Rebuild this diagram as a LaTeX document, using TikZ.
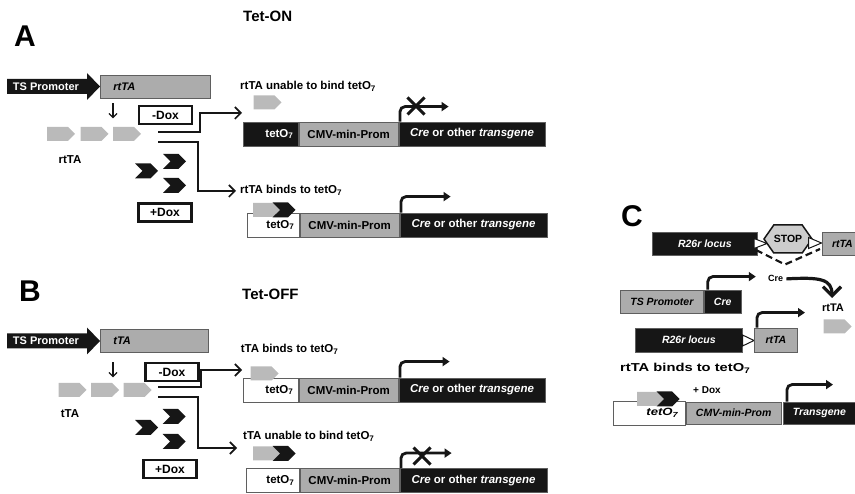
\documentclass[tikz,border=0pt]{standalone}
\usepackage{fontspec}
\usepackage{graphicx}
\setmainfont{Liberation Sans}
\usetikzlibrary{positioning,calc,arrows.meta,shapes.symbols,shapes.misc}

\definecolor{darkbar}{RGB}{22,22,22}
\definecolor{boxgray}{RGB}{172,172,172}
\definecolor{pentgray}{RGB}{186,186,186}
\definecolor{stopgray}{RGB}{205,205,205}
\definecolor{segline}{RGB}{95,95,95}

\tikzset{
  seg/.style={draw=segline, line width=0.8pt, minimum height=24pt, inner sep=0pt, anchor=west, font=\fontsize{11.5}{13}\selectfont\bfseries},
  blackseg/.style={seg, fill=darkbar, text=white},
  grayseg/.style={seg, fill=boxgray},
  whiteseg/.style={seg, fill=white},
  tetseg/.style={text width=#1, align=right, inner xsep=5pt},
  cseg/.style={font=\fontsize{10.5}{12}\selectfont\bfseries\itshape},
  genebox/.style={draw=segline, fill=boxgray, line width=0.8pt, minimum height=23pt, inner ysep=0pt, inner xsep=13pt, text width=#1, align=left, anchor=west, font=\fontsize{11}{13}\selectfont\bfseries\itshape},
  promtext/.style={text=white, inner sep=0pt, font=\fontsize{11}{13}\selectfont\bfseries},
  pent/.style={signal, signal to=east, fill=pentgray, minimum width=28pt, minimum height=14pt, inner sep=0pt},
  chev/.style={signal, signal from=west, signal to=east, fill=darkbar, minimum width=23pt, minimum height=15pt, inner sep=0pt},
  doxbox/.style={draw=darkbar, line width=2.2pt, minimum width=53pt, minimum height=18pt, inner sep=0pt, font=\fontsize{12}{14}\selectfont\bfseries},
  panel/.style={inner sep=0pt, anchor=base west, font=\fontsize{30}{32}\selectfont\bfseries},
  title/.style={inner sep=0pt, anchor=base west, font=\fontsize{15}{17}\selectfont\bfseries},
  note/.style={inner sep=0pt, font=\fontsize{11.5}{13}\selectfont\bfseries},
  promo/.style={draw=darkbar, line width=2.8pt, rounded corners=5pt, -{Triangle[length=7pt,width=9pt]}},
  doxflow/.style={draw=darkbar, line width=1.6pt, -{Straight Barb[length=6pt,width=12pt]}},
  downarr/.style={draw=darkbar, line width=1.3pt, -{Straight Barb[length=4pt,width=8pt]}},
  xmark/.style={cross out, draw=darkbar, line width=3pt, minimum width=14pt, minimum height=14pt, inner sep=0pt},
  loxp/.style={draw=darkbar, fill=white, line width=1pt},
  cutline/.style={draw=darkbar, line width=2.2pt, dash pattern=on 7pt off 4pt},
  bigarrow/.style={draw=darkbar, line width=3.2pt, -{Straight Barb[length=9pt,width=18pt]}},
}

\begin{document}
\begin{tikzpicture}[x=1pt,y=-1pt]
\useasboundingbox (0,0) rectangle (855,494);

% ---------- panel A: Tet-ON ----------
\node[panel] (labA) at (14,46.7) {A};
\node[title] (titleA) at (243,21.7) {Tet-ON};

\fill[darkbar] (7,79) -- (87,79) -- (87,73) -- (100,86.5) -- (87,100) -- (87,94) -- (7,94) -- cycle;
\node[promtext] (tsA) at (46,86.5) {TS Promoter};
\node[genebox=84pt] (rtTAgene) at (100,86.5) {rtTA};
\draw[downarr] ($(rtTAgene.south west)+(13,5)$) -- ($(rtTAgene.south west)+(13,20)$);

\node[pent] (a1) at (57.5,134) {};
\node[pent] (a2) at (91,134) {};
\node[pent] (a3) at (123.5,134) {};
\node[note, anchor=base] (rtTAlab) at (70,164) {rtTA};

\node[doxbox] (minusA) at (165.5,115) {-Dox};
\node[doxbox] (plusA) at (165,212.5) {+Dox};
\node[chev] (dA1) at (146.5,171) {};
\node[chev] (dA2) at (174.5,161.5) {};
\node[chev] (dA3) at (174.5,185.5) {};

\coordinate (srcA1) at (158,132);
\coordinate (srcA2) at (158,142);
\coordinate (tgtA1) at (242,113);
\coordinate (tgtA2) at (236,191);
\draw[doxflow] (srcA1) -- ++(42,0) |- (tgtA1);
\draw[doxflow] (srcA2) -- ++(40,0) |- (tgtA2);

% no binding without Dox
\node[note, anchor=base west] (lblA1) at (240,89.5) {rtTA unable to bind tetO\textsubscript{7}};
\node[pent] (gA1) at (264,102.5) {};
\node[blackseg, tetseg=45pt] (tetA1) at (243,134) {tetO\textsubscript{7}};
\node[grayseg, minimum width=99pt, right=0pt of tetA1] (cmvA1) {CMV-min-Prom};
\node[blackseg, minimum width=146pt, right=0pt of cmvA1] (creA1) {\textit{Cre} or other \textit{transgene}};
\draw[promo] ([xshift=1.4pt]creA1.north west) |- ([xshift=50pt,yshift=15pt]creA1.north west);
\node[xmark] (xA1) at (416,106) {};

% binding with Dox
\node[note, anchor=base west] (lblA2) at (240,193.3) {rtTA binds to tetO\textsubscript{7}};
\node[whiteseg, tetseg=42pt] (tetA2) at (247,225) {tetO\textsubscript{7}};
\node[grayseg, minimum width=99pt, right=0pt of tetA2] (cmvA2) {CMV-min-Prom};
\node[blackseg, minimum width=147pt, right=0pt of cmvA2] (creA2) {\textit{Cre} or other \textit{transgene}};
\draw[promo] ([xshift=1.4pt]creA2.north west) |- ([xshift=51pt,yshift=16pt]creA2.north west);
\node[pent] (gA2) at (263.5,210) {};
\node[chev] (kA2) at (284,210) {};

% ---------- panel B: Tet-OFF ----------
\node[panel] (labB) at (19,301.7) {B};
\node[title] (titleB) at (242,300) {Tet-OFF};

\fill[darkbar] (7,333.5) -- (87,333.5) -- (87,327.5) -- (100,341) -- (87,354.5) -- (87,348.5) -- (7,348.5) -- cycle;
\node[promtext] (tsB) at (46,341) {TS Promoter};
\node[genebox=82pt] (tTAgene) at (100,341) {tTA};
\draw[downarr] ($(tTAgene.south west)+(13,9.5)$) -- ($(tTAgene.south west)+(13,24.5)$);

\node[pent] (b1) at (69,390) {};
\node[pent] (b2) at (101.5,390) {};
\node[pent] (b3) at (134,390) {};
\node[note, anchor=base] (tTAlab) at (70,418) {tTA};

\node[doxbox] (minusB) at (172,372) {-Dox};
\node[doxbox] (plusB) at (170,469) {+Dox};
\node[chev] (eB1) at (146.5,427.5) {};
\node[chev] (eB2) at (174,416.5) {};
\node[chev] (eB3) at (174,441.5) {};

\coordinate (srcB1) at (158,387);
\coordinate (srcB2) at (158,397);
\coordinate (tgtB1) at (242,370);
\coordinate (tgtB2) at (237,448);
\draw[doxflow] (srcB1) -- ++(43,0) |- (tgtB1);
\draw[doxflow] (srcB2) -- ++(40,0) |- (tgtB2);

% binding without Dox
\node[note, anchor=base west] (lblB1) at (240.7,352.7) {tTA binds to tetO\textsubscript{7}};
\node[whiteseg, tetseg=45pt] (tetB1) at (243,390) {tetO\textsubscript{7}};
\node[grayseg, minimum width=99pt, right=0pt of tetB1] (cmvB1) {CMV-min-Prom};
\node[blackseg, minimum width=146pt, right=0pt of cmvB1] (creB1) {\textit{Cre} or other \textit{transgene}};
\draw[promo] ([xshift=1.4pt]creB1.north west) |- ([xshift=51pt,yshift=16pt]creB1.north west);
\node[pent] (gB1) at (261,373.5) {};

% no binding with Dox
\node[note, anchor=base west] (lblB2) at (243,439.3) {tTA unable to bind tetO\textsubscript{7}};
\node[pent] (gB2) at (263.5,453.5) {};
\node[chev] (kB2) at (284,453.5) {};
\node[whiteseg, tetseg=43pt] (tetB2) at (246,480.5) {tetO\textsubscript{7}};
\node[grayseg, minimum width=99pt, right=0pt of tetB2] (cmvB2) {CMV-min-Prom};
\node[blackseg, minimum width=147pt, right=0pt of cmvB2] (creB2) {\textit{Cre} or other \textit{transgene}};
\draw[promo] ([xshift=1.4pt]creB2.north west) |- ([xshift=52pt,yshift=15pt]creB2.north west);
\node[xmark] (xB2) at (422,456) {};

% ---------- panel C ----------
\node[panel] (labC) at (621,226.7) {C};

\node[blackseg, cseg, minimum width=105pt, minimum height=23pt] (r26a) at (652,243.5) {R26r locus};
\draw[loxp] (754,238.5) -- (767,243.5) -- (754,248.5) -- cycle;
\node[signal, signal to=east and west, signal pointer angle=110, draw=darkbar, line width=1.5pt, fill=stopgray, minimum width=40pt, minimum height=28pt, inner sep=0pt, font=\fontsize{10.5}{12}\selectfont\bfseries] (stopC) at (788,239) {STOP};
\draw[loxp] (808.5,237.5) -- (821.5,243) -- (808.5,248.5) -- cycle;
\node[grayseg, cseg, minimum width=40pt, minimum height=23pt] (rtC1) at (822,243.5) {rtTA};
\draw[cutline] (756,250) -- (785,264.5) -- (820,249);

\node[note, anchor=base west, font=\fontsize{9}{11}\selectfont\bfseries] (creC) at (768,282) {Cre};
\draw[bigarrow] ([xshift=3pt]creC.east) .. controls (820,277) and (832,279) .. (832,298);

\node[grayseg, cseg, minimum width=83pt, minimum height=23pt] (tsC) at (620,301.5) {TS Promoter};
\node[blackseg, cseg, minimum width=37pt, minimum height=23pt, right=0pt of tsC] (creCbox) {Cre};
\draw[promo] ([xshift=4pt]creCbox.north west) |- ([xshift=52pt,yshift=13pt]creCbox.north west);

\node[note, anchor=base, font=\fontsize{11}{13}\selectfont\bfseries] (rtClab) at (833,311.7) {rtTA};
\node[pent] (pC) at (834,326.5) {};

\node[blackseg, cseg, minimum width=107pt] (r26b) at (635,340) {R26r locus};
\draw[loxp] (742.5,335) -- (754,340.5) -- (742.5,346) -- cycle;
\node[grayseg, cseg, minimum width=43pt] (rtC2) at (754,340) {rtTA};
\draw[promo] ([xshift=3pt]rtC2.north west) |- ([xshift=51pt,yshift=15pt]rtC2.north west);

\node[note, anchor=base west] (lblC) at (620,371.7) {\scalebox{1.28}[1]{rtTA binds to tetO\textsubscript{7}}};
\node[note, anchor=base west, font=\fontsize{10}{12}\selectfont\bfseries] (doxC) at (693,393.3) {+ Dox};
\node[whiteseg, cseg, tetseg=58pt, inner xsep=7pt] (tetC) at (613,413) {\scalebox{1.25}[1]{tetO\textsubscript{7}}};
\node[grayseg, cseg, minimum width=95pt, minimum height=22pt, right=0pt of tetC] (cmvC) {CMV-min-Prom};
\node[blackseg, cseg, minimum width=72pt, minimum height=22pt] (trC) at (783,413) {Transgene};
\draw[promo] ([xshift=4pt]trC.north west) |- ([xshift=50pt,yshift=17pt]trC.north west);
\node[pent] (gC) at (647.5,399) {};
\node[chev] (kC) at (668,399) {};
\end{tikzpicture}
\end{document}
